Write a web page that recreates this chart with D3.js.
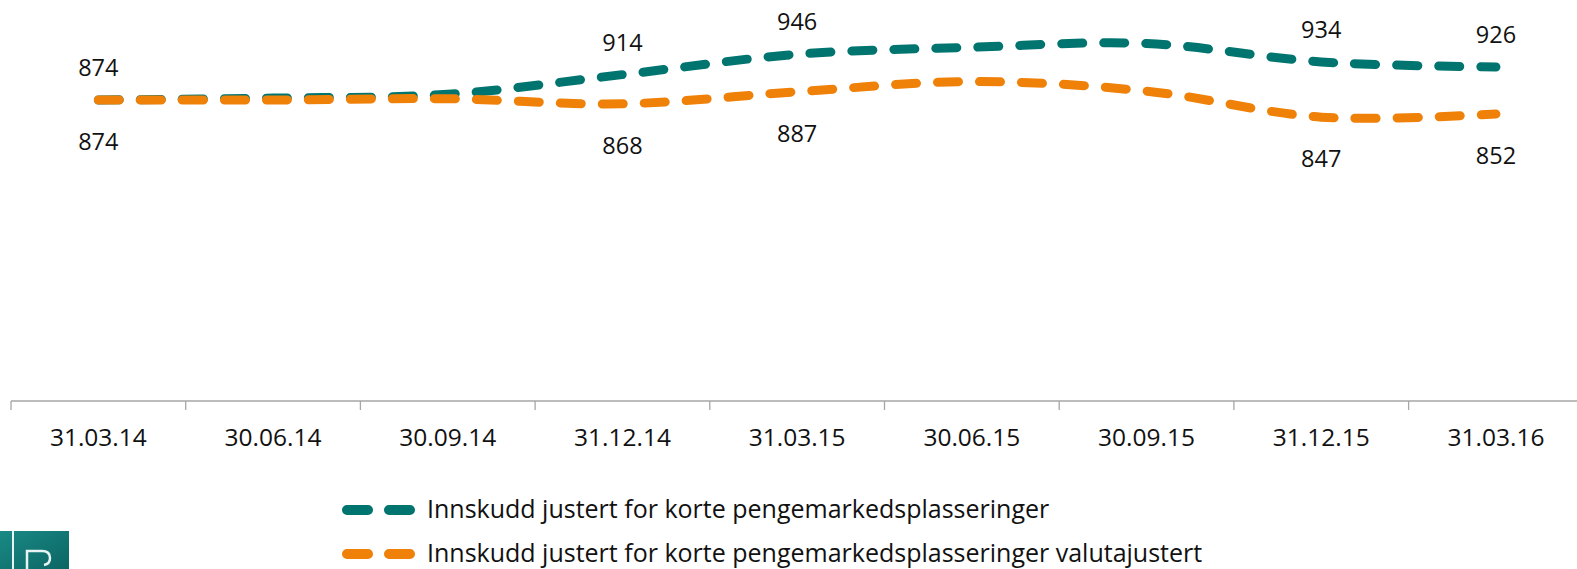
<!DOCTYPE html>
<html>
<head>
<meta charset="utf-8">
<script src="https://cdn.jsdelivr.net/npm/d3@7"></script>
<style>
  body { margin: 0; background: #fff; }
  text { font-family: "Open Sans", "Noto Sans", sans-serif; fill: #111; }
</style>
</head>
<body>
<div id="chart"></div>
<script>
// quarter ends
var categories = ["31.03.14", "30.06.14", "30.09.14", "31.12.14", "31.03.15", "30.06.15", "30.09.15", "31.12.15", "31.03.16"];
// values (unlabelled points are estimates)
var innskudd = [874, 877, 883, 914, 946, 957, 963, 934, 926];
var valutajustert = [874, 874, 876, 868, 887, 903, 888, 847, 852];
var labelIdx = [0, 3, 4, 7, 8]; // points that carry a value label
var seriesNames = ["Innskudd justert for korte pengemarkedsplasseringer",
                   "Innskudd justert for korte pengemarkedsplasseringer valutajustert"];
var colors = ["#007570", "#ef8008"];

var w = 1577, h = 569;
var svg = d3.select("#chart").append("svg").attr("width", w).attr("height", h);

var x = d3.scaleBand().domain(categories).range([11, 11 + 9 * 174.7]);
var y = d3.scaleLinear().domain([400, 1000]).range([401, 20]);

// x axis
var axis = svg.append("g").attr("transform", "translate(0,401)")
  .call(d3.axisBottom(x).tickSize(0).tickPadding(28));
axis.select(".domain").attr("stroke", "#a6a6a6").attr("stroke-width", 1.3)
  .attr("d", "M11,0H" + w);
axis.selectAll(".tick text").style("font-size", "24.5px").attr("fill", "#111")
  .style("font-family", '"Open Sans", sans-serif');
svg.append("g").selectAll("line")
  .data(categories)
  .enter().append("line")
  .attr("x1", function(d) { return x(d); })
  .attr("x2", function(d) { return x(d); })
  .attr("y1", 401).attr("y2", 410)
  .attr("stroke", "#a6a6a6").attr("stroke-width", 1.3);

var line = d3.line()
  .x(function(d, i) { return x(categories[i]) + x.bandwidth() / 2; })
  .y(function(d) { return y(d); })
  .curve(d3.curveCatmullRom.alpha(0));

[innskudd, valutajustert].forEach(function(s, k) {
  svg.append("path")
    .attr("d", line(s))
    .attr("fill", "none")
    .attr("stroke", colors[k])
    .attr("stroke-width", 9)
    .attr("stroke-linecap", "round")
    .attr("stroke-dasharray", "21,21");
});

// value labels: teal above, orange below
svg.selectAll("text.lab1")
  .data(labelIdx)
  .enter().append("text")
  .attr("class", "lab1")
  .attr("x", function(i) { return x(categories[i]) + x.bandwidth() / 2; })
  .attr("y", function(i) { return y(innskudd[i]) - 24; })
  .attr("text-anchor", "middle")
  .style("font-size", "23.5px")
  .text(function(i) { return innskudd[i]; });

svg.selectAll("text.lab2")
  .data(labelIdx)
  .enter().append("text")
  .attr("class", "lab2")
  .attr("x", function(i) { return x(categories[i]) + x.bandwidth() / 2; })
  .attr("y", function(i) { return y(valutajustert[i]) + 50; })
  .attr("text-anchor", "middle")
  .style("font-size", "23.5px")
  .text(function(i) { return valutajustert[i]; });

// legend
var leg = svg.append("g");
seriesNames.forEach(function(name, k) {
  var ly = 510 + k * 44;
  leg.append("line")
    .attr("x1", 347).attr("x2", 411).attr("y1", ly).attr("y2", ly)
    .attr("stroke", colors[k]).attr("stroke-width", 10)
    .attr("stroke-linecap", "round").attr("stroke-dasharray", "21,21");
  leg.append("text")
    .attr("x", 427).attr("y", ly + 8)
    .style("font-size", "25px")
    .text(name);
});

// logo in the corner
var grad = svg.append("defs").append("linearGradient").attr("id", "lg")
  .attr("x1", 0).attr("x2", 1).attr("y1", 0).attr("y2", 1);
grad.append("stop").attr("offset", 0).attr("stop-color", "#1a8a86");
grad.append("stop").attr("offset", 1).attr("stop-color", "#0b6462");
svg.append("rect").attr("x", 0).attr("y", 531).attr("width", 69).attr("height", 40)
  .attr("fill", "url(#lg)");
svg.append("line").attr("x1", 13).attr("x2", 13).attr("y1", 531).attr("y2", 569)
  .attr("stroke", "#e8f4f3").attr("stroke-width", 2);
svg.append("path").attr("d", "M27,569V551H42Q50,551 50,558Q50,564 44,565")
  .attr("fill", "none").attr("stroke", "#e8f4f3").attr("stroke-width", 2.5);
</script>
</body>
</html>
